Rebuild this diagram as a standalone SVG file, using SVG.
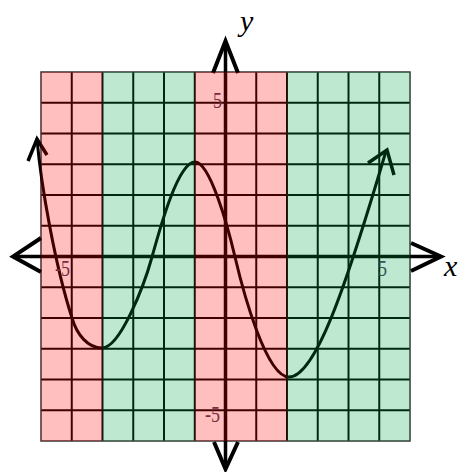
<svg xmlns="http://www.w3.org/2000/svg" width="459" height="472" viewBox="0 0 459 472">
  <style>
    .grid line { stroke: #000; stroke-width: 2; }
    .border { fill: none; stroke: #333; stroke-width: 1.5; }
    .axis { stroke: #000; stroke-width: 3.5; fill: none; }
    .head { stroke: #000; stroke-width: 4; fill: none; stroke-linejoin: miter; stroke-linecap: butt; }
    .curve { stroke: #000; stroke-width: 3; fill: none; stroke-linecap: round; stroke-linejoin: round; }
    .tick { font-family: "Liberation Serif", "Times New Roman", serif; font-size: 18px; fill: #4a3a55; }
    .var { font-family: "Liberation Serif", "Times New Roman", serif; font-style: italic; font-size: 30px; fill: #000; }
    .red { fill: rgb(255,0,0); fill-opacity: 0.25; }
    .green { fill: rgb(0,164,68); fill-opacity: 0.25; }
  </style>
  <rect x="0" y="0" width="459" height="472" fill="#fff"/>
  <g id="grid" class="grid">
    <line x1="71.75" y1="72" x2="71.75" y2="441"/>
    <line x1="102.5" y1="72" x2="102.5" y2="441"/>
    <line x1="133.25" y1="72" x2="133.25" y2="441"/>
    <line x1="164" y1="72" x2="164" y2="441"/>
    <line x1="194.75" y1="72" x2="194.75" y2="441"/>
    <line x1="256.25" y1="72" x2="256.25" y2="441"/>
    <line x1="287" y1="72" x2="287" y2="441"/>
    <line x1="317.75" y1="72" x2="317.75" y2="441"/>
    <line x1="348.5" y1="72" x2="348.5" y2="441"/>
    <line x1="379.25" y1="72" x2="379.25" y2="441"/>
    <line x1="41" y1="102.75" x2="410" y2="102.75"/>
    <line x1="41" y1="133.5" x2="410" y2="133.5"/>
    <line x1="41" y1="164.25" x2="410" y2="164.25"/>
    <line x1="41" y1="195" x2="410" y2="195"/>
    <line x1="41" y1="225.75" x2="410" y2="225.75"/>
    <line x1="41" y1="287.25" x2="410" y2="287.25"/>
    <line x1="41" y1="318" x2="410" y2="318"/>
    <line x1="41" y1="348.75" x2="410" y2="348.75"/>
    <line x1="41" y1="379.5" x2="410" y2="379.5"/>
    <line x1="41" y1="410.25" x2="410" y2="410.25"/>
    <rect class="border" x="41" y="72" width="369" height="369"/>
  </g>
  <g id="axes">
    <line class="axis" x1="14" y1="256.5" x2="440" y2="256.5"/>
    <line class="axis" x1="225.5" y1="42" x2="225.5" y2="468"/>
    <polyline class="head" points="41,238 13,256.5 41,272"/>
    <polyline class="head" points="411,243 441,256.5 411,271"/>
    <polyline class="head" points="213,73 225.5,41 238,73"/>
    <polyline class="head" points="214,442 225.5,469 238,442"/>
  </g>
  <g id="curve">
    <path class="curve" d="M37,139 C41,185 55,265 72,318 C77,335 88,348 102,348 C120,348 144,286 152,257 C160,228 178,162 195,162 C210,162 228,227 235,257 C243,291 266,377 289,377 C315,377 345,290 386,151"/>
    <polyline class="head" points="28,161 37,139 47,155" style="stroke-width:3.5"/>
    <polyline class="head" points="368,163 387,150 394,175" style="stroke-width:3.5"/>
  </g>
  <g id="ticks">
    <text class="tick" transform="translate(213,108) scale(1,1.3)">5</text>
    <text class="tick" transform="translate(378,276) scale(1,1.3)">5</text>
    <text class="tick" transform="translate(205,422) scale(1,1.3)">-5</text>
    <text class="tick" transform="translate(55,276) scale(1,1.3)">-5</text>
  </g>
  <g id="bands">
    <rect class="red" x="41" y="72" width="61.5" height="369"/>
    <rect class="green" x="102.5" y="72" width="92.25" height="369"/>
    <rect class="red" x="194.75" y="72" width="92.25" height="369"/>
    <rect class="green" x="287" y="72" width="123" height="369"/>
  </g>
  <g id="labels">
    <text class="var" x="240" y="31">y</text>
    <text class="var" x="444" y="276">x</text>
  </g>
</svg>
